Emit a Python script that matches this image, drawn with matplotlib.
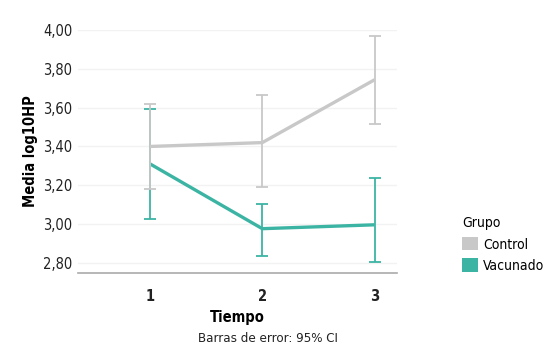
import matplotlib.pyplot as plt
from matplotlib.patches import Patch

# Data
tiempo = [1, 2, 3]
control_mean = [3.40, 3.42, 3.745]
control_lo = [3.18, 3.19, 3.515]
control_hi = [3.62, 3.665, 3.97]
vacunado_mean = [3.31, 2.975, 2.995]
vacunado_lo = [3.025, 2.835, 2.805]
vacunado_hi = [3.595, 3.105, 3.235]
yticks = [2.8, 3.0, 3.2, 3.4, 3.6, 3.8, 4.0]

GRAY = '#c8c8c8'
TEAL = '#3cb4a4'

plt.rcParams['font.family'] = ['DejaVu Sans']
plt.rcParams['font.stretch'] = 'condensed'

fig = plt.figure(figsize=(5.5, 3.62), dpi=100)
ax = fig.add_axes([0.142, 0.247, 0.58, 0.669])

def draw(mean, lo, hi, color, z):
    err = [[m - l for m, l in zip(mean, lo)], [h - m for m, h in zip(mean, hi)]]
    ax.errorbar(tiempo, mean, yerr=err, fmt='none', ecolor=color,
                elinewidth=1.3, capsize=4, capthick=1.3, zorder=z)
    ax.plot(tiempo, mean, color=color, lw=2.4, zorder=z + 1,
            solid_capstyle='butt')

draw(vacunado_mean, vacunado_lo, vacunado_hi, TEAL, 2)
draw(control_mean, control_lo, control_hi, GRAY, 4)

ax.set_xlim(0.36, 3.2)
ax.set_ylim(2.748, 4.0)
ax.set_yticks(yticks)
ax.set_yticklabels([f'{v:.2f}'.replace('.', ',') for v in yticks])
ax.set_xticks(tiempo)
ax.set_xticklabels([str(t) for t in tiempo], fontweight='bold')
ax.tick_params(axis='both', length=0, labelsize=10.5, colors='#222222')
ax.tick_params(axis='x', pad=12)
ax.tick_params(axis='y', pad=4)
for lbl in ax.get_yticklabels():
    lbl.set_va('center_baseline')
ax.grid(axis='y', color='#f2f2f2', lw=1)
ax.set_axisbelow(True)
for s in ['top', 'right', 'left']:
    ax.spines[s].set_visible(False)
ax.spines['bottom'].set_color('#aaaaaa')
ax.spines['bottom'].set_linewidth(1.2)

ax.set_xlabel('Tiempo', fontsize=10.5, fontweight='bold', labelpad=4)
ax.set_ylabel('Media log10HP', fontsize=10.5, fontweight='bold', labelpad=4)
fig.text(0.487, 0.066, 'Barras de error: 95% CI', ha='center', va='center',
         fontsize=9.5, color='#222222')

handles = [Patch(facecolor=GRAY, label='Control'),
           Patch(facecolor=TEAL, label='Vacunado')]
leg = fig.legend(handles=handles, title='Grupo', loc='upper left',
                 bbox_to_anchor=(0.828, 0.422), frameon=False, fontsize=10,
                 title_fontsize=10, handlelength=1.1, handleheight=1.1,
                 handletextpad=0.4, labelspacing=0.5, borderpad=0)
leg._legend_box.align = 'left'

fig.savefig('out.png', dpi=100)
